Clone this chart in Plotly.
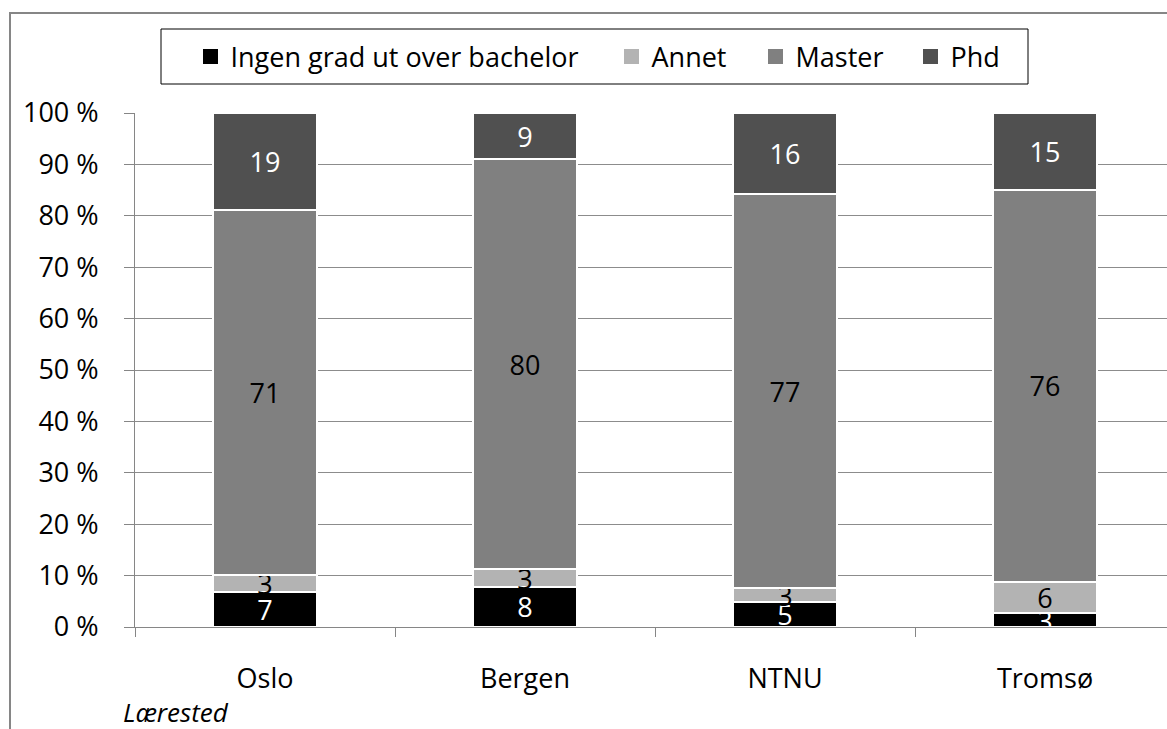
import plotly.graph_objects as go

# ---------------- data ----------------
categories = ["Oslo", "Bergen", "NTNU", "Tromsø"]
series_names = ["Ingen grad ut over bachelor", "Annet", "Master", "Phd"]

# segment heights (percent of each bar)
ingen = [6.8, 7.8, 4.9, 2.7]
annet = [3.4, 3.4, 2.6, 6.1]
master = [71.0, 79.8, 76.7, 76.2]
phd = [18.8, 9.0, 15.8, 15.0]

# printed data labels
labels_ingen = ["7", "8", "5", "3"]
labels_annet = ["3", "3", "3", "6"]
labels_master = ["71", "80", "77", "76"]
labels_phd = ["19", "9", "16", "15"]

y_tickvals = [0, 10, 20, 30, 40, 50, 60, 70, 80, 90, 100]
y_ticktext = ["0 %", "10 %", "20 %", "30 %", "40 %", "50 %", "60 %",
              "70 %", "80 %", "90 %", "100 %"]
x_title = "Lærested"

# ---------------- styling ----------------
colors = ["#000000", "#b3b3b3", "#808080", "#505050"]
text_colors = ["#ffffff", "#000000", "#000000", "#ffffff"]
FONT = "Open Sans"
FS = 27
W, H = 1167, 729
L, R, T, B = 135, 0, 113, 102
PW = W - L - R
PH = H - T - B


def px_x(px):
    return (px - L) / PW


def px_y(py):
    return (H - B - py) / PH


fig = go.Figure()
values = [ingen, annet, master, phd]
labels = [labels_ingen, labels_annet, labels_master, labels_phd]
for i, name in enumerate(series_names):
    fig.add_trace(go.Bar(
        x=categories, y=values[i], name=name,
        marker=dict(color=colors[i], line=dict(color="#ffffff", width=2)),
        text=labels[i], texttemplate="%{text}",
        textposition="inside", insidetextanchor="middle",
        constraintext="none", textangle=0,
        textfont=dict(family=FONT, size=FS, color=text_colors[i]),
        showlegend=False, hoverinfo="skip",
    ))

# legend entries (one legend each so they can be spaced like the original)
legend_keys = ["legend", "legend2", "legend3", "legend4"]
legend_sym_left = [203, 624, 768, 923]
for i, name in enumerate(series_names):
    fig.add_trace(go.Scatter(
        x=[None], y=[None], mode="markers", name=name,
        marker=dict(symbol="square", size=15, color=colors[i],
                    line=dict(width=0)),
        legend=legend_keys[i], showlegend=True, hoverinfo="skip",
    ))

layout_legends = {}
for i, key in enumerate(legend_keys):
    layout_legends[key] = dict(
        x=px_x(legend_sym_left[i] - 12.5), xanchor="left",
        y=px_y(57), yanchor="middle",
        orientation="h", bgcolor="rgba(0,0,0,0)", borderwidth=0,
        font=dict(family=FONT, size=FS, color="#000000"),
        itemclick=False, itemdoubleclick=False,
    )

fig.update_layout(
    width=W, height=H, autosize=False,
    margin=dict(l=L, r=R, t=T, b=B, pad=0),
    paper_bgcolor="#ffffff", plot_bgcolor="#ffffff",
    barmode="stack", bargap=0.6,
    font=dict(family=FONT, size=FS, color="#000000"),
    uniformtext=dict(minsize=FS, mode="show"),
    hovermode=False,
    **layout_legends,
)

fig.update_xaxes(
    type="category", range=[-0.5, -0.5 + PW / 260.0],
    tickson="boundaries", ticks="outside", ticklen=9, tickcolor="#868686",
    showline=True, linecolor="#868686", linewidth=1,
    showgrid=False, zeroline=False, ticklabelstandoff=28,
    tickfont=dict(family=FONT, size=FS, color="#000000"),
)
fig.update_yaxes(
    range=[0, 100], tickvals=y_tickvals, ticktext=y_ticktext,
    ticks="outside", ticklen=10, tickcolor="#868686",
    showline=True, linecolor="#868686", linewidth=1,
    showgrid=True, gridcolor="#8c8c8c", gridwidth=1, zeroline=False,
    ticklabelstandoff=20,
    tickfont=dict(family=FONT, size=FS, color="#000000"),
)

# chart border and legend box
fig.add_shape(type="rect", xref="paper", yref="paper",
              x0=px_x(10), x1=px_x(1200), y0=px_y(760), y1=px_y(13),
              line=dict(color="#868686", width=2), fillcolor="rgba(0,0,0,0)",
              layer="above")
fig.add_shape(type="rect", xref="paper", yref="paper",
              x0=px_x(161), x1=px_x(1028), y0=px_y(84), y1=px_y(29),
              line=dict(color="#000000", width=1), fillcolor="rgba(0,0,0,0)")

fig.add_annotation(text="<i>" + x_title + "</i>", xref="paper", yref="paper",
                   x=px_x(121), xanchor="left", y=px_y(712), yanchor="middle",
                   showarrow=False, font=dict(family=FONT, size=26, color="#000000"))

fig.write_html(
    "out.html",
    config={"displayModeBar": False, "staticPlot": True},
    post_script="document.body.style.margin='0px';"
                "document.body.style.overflow='hidden';",
)
